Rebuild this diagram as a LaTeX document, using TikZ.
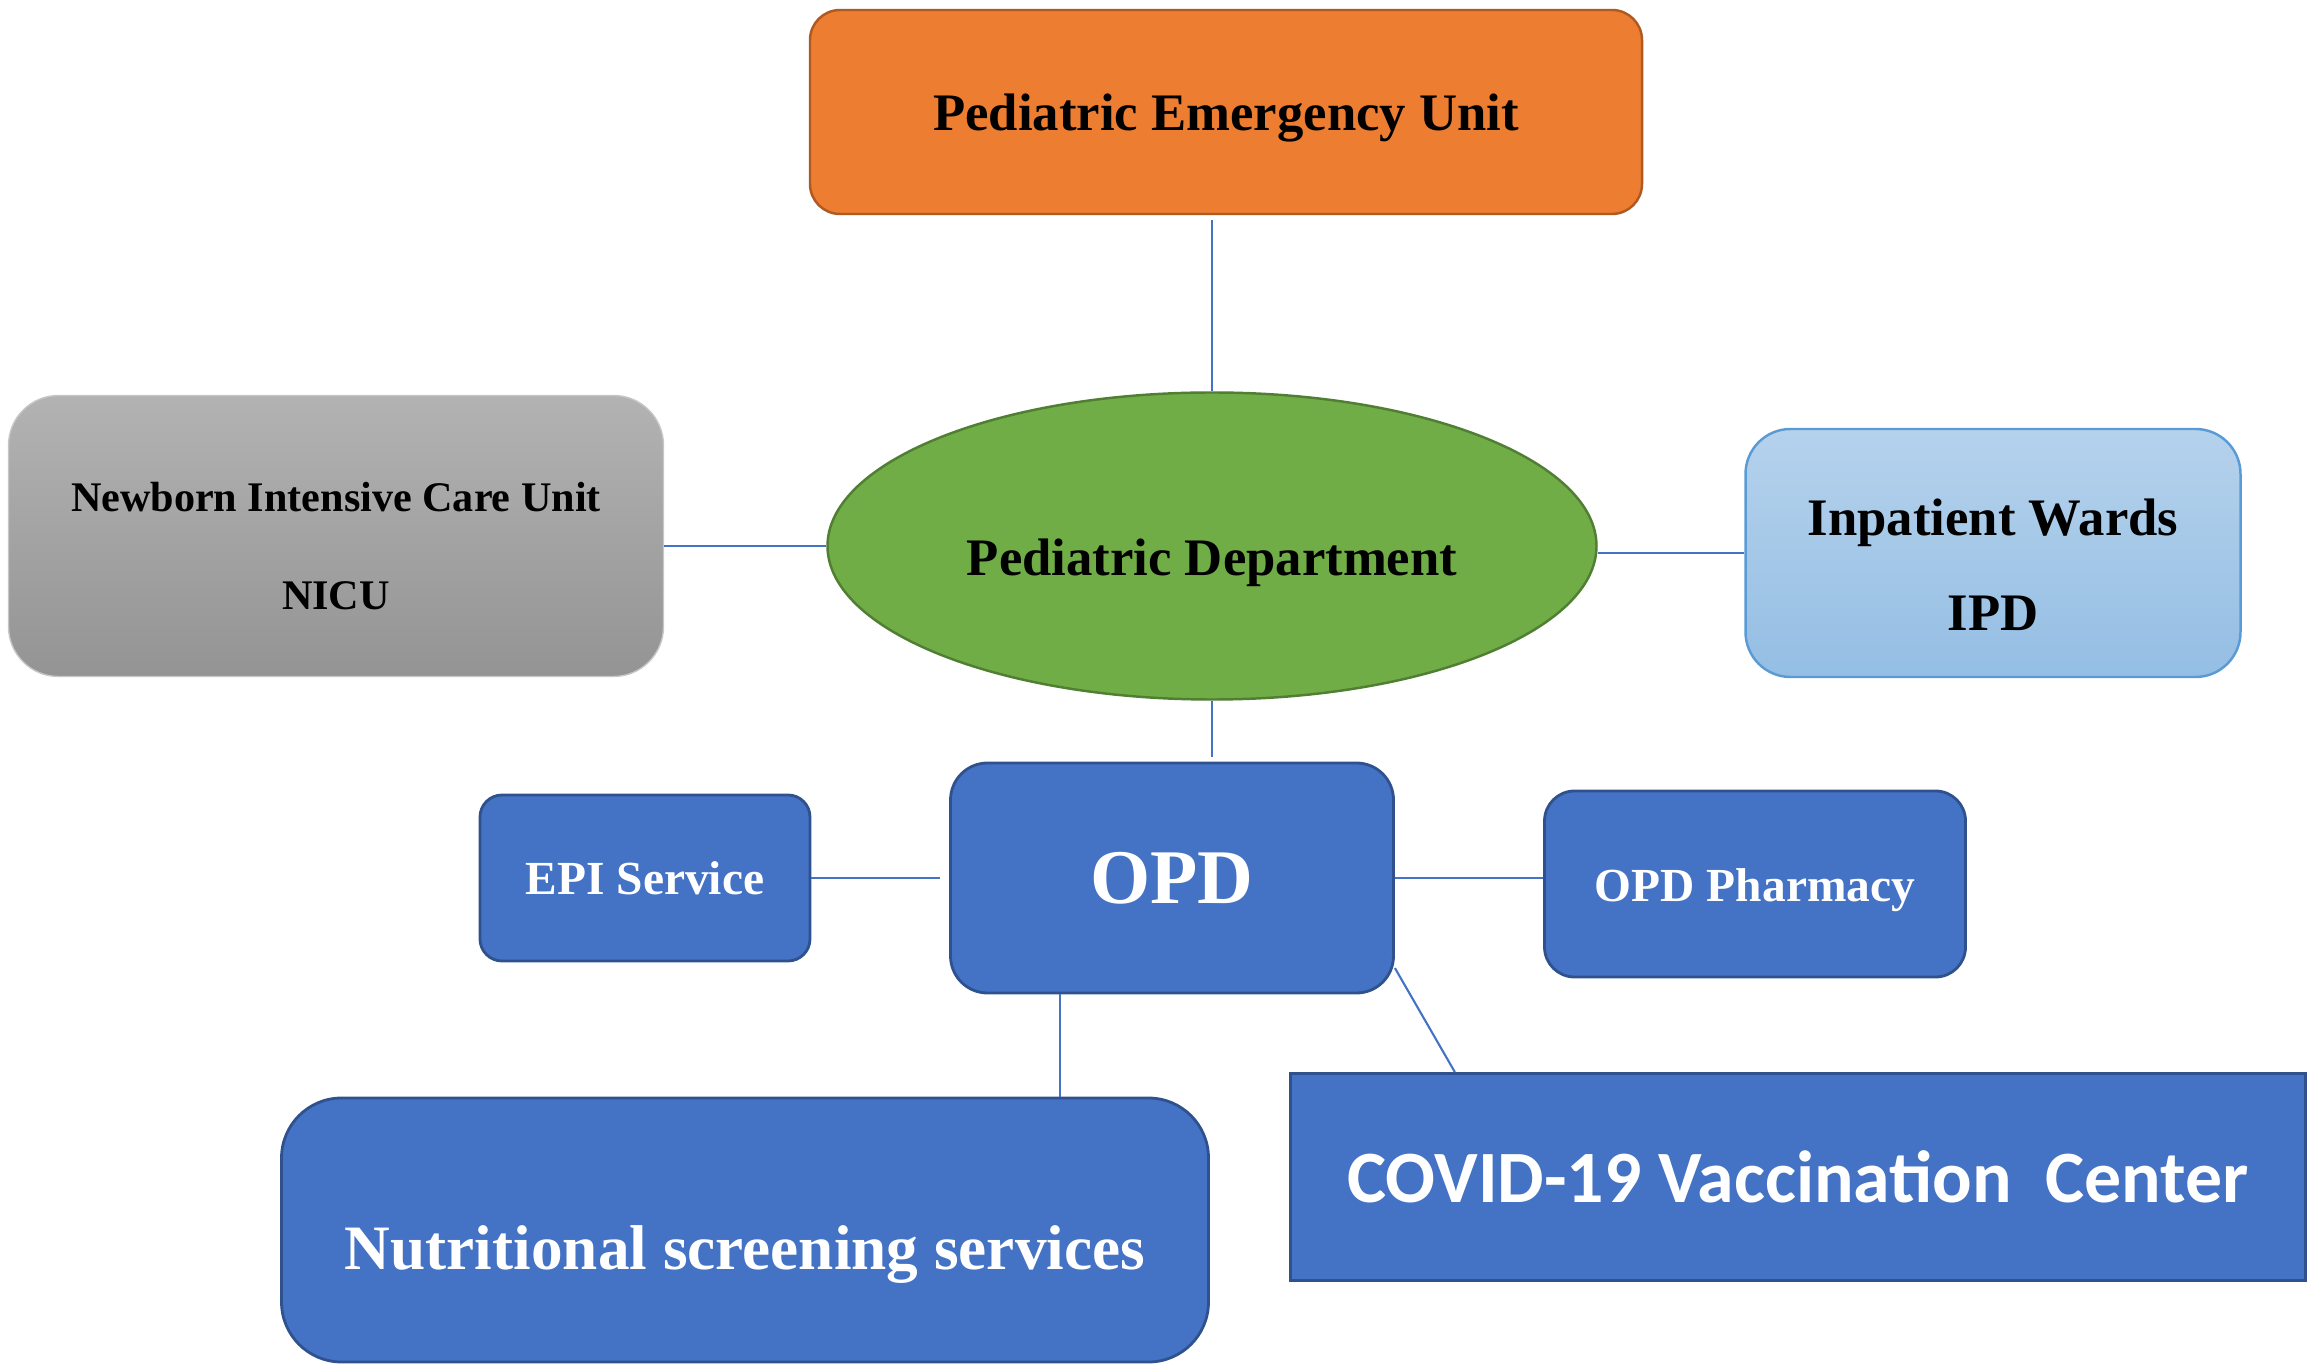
\documentclass[tikz,border=0pt]{standalone}
\usepackage{fontspec}
\setmainfont{Liberation Serif}
\newfontfamily\covidfont{Carlito}
\usepackage{tikz}
\usetikzlibrary{shapes.geometric}
\definecolor{emorange}{HTML}{ED7D31}
\definecolor{emorangedark}{HTML}{AE5A21}
\definecolor{deptgreen}{HTML}{70AD47}
\definecolor{deptgreendark}{HTML}{507E32}
\definecolor{opdblue}{HTML}{4472C4}
\definecolor{opdbluedark}{HTML}{2F528F}
\definecolor{ipdblue}{HTML}{5B9BD5}
\tikzset{unit/.style = {draw, rounded corners = 3mm, inner sep = 0, align = center}}
\tikzset{opdunit/.style = {unit, fill = opdblue, draw = opdbluedark, text = white}}
\tikzset{link/.style = {draw = opdblue, line width = 0.6pt}}

\begin{document}
\begin{tikzpicture}
      \useasboundingbox (0, 0) rectangle (23.18, 13.65);
      \node [unit, fill = emorange, draw = emorangedark, line width = 0.7pt, minimum width = 8.32cm, minimum height = 2.04cm, text height = 14pt, font = \fontsize{15}{18}\selectfont\bfseries] (emergency) at (12.26, 12.53) {Pediatric Emergency Unit};
      \node [ellipse, draw = deptgreendark, fill = deptgreen, line width = 0.7pt, inner sep = 0, minimum width = 7.69cm, minimum height = 3.07cm, text height = 20pt, font = \fontsize{15}{18}\selectfont\bfseries] (dept) at (12.12, 8.19) {Pediatric Department};
      \node [unit, rounded corners = 5mm, draw = gray!45, top color = black!30, bottom color = black!42, minimum width = 6.55cm, minimum height = 2.81cm, font = \fontsize{12}{28}\selectfont\bfseries] (nicu) at (3.36, 8.29) {\rule{0pt}{0.5cm}Newborn Intensive Care Unit\\NICU};
      \node [unit, rounded corners = 4.5mm, draw = ipdblue, top color = ipdblue!45, bottom color = ipdblue!65, line width = 0.7pt, minimum width = 4.95cm, minimum height = 2.48cm, font = \fontsize{15}{27}\selectfont\bfseries] (ipd) at (19.93, 8.12) {\rule{0pt}{0.6cm}Inpatient Wards\\IPD};
      \node [opdunit, rounded corners = 3.7mm, line width = 0.8pt, minimum width = 4.43cm, minimum height = 2.30cm, font = \fontsize{22}{26}\selectfont\bfseries] (opd) at (11.72, 4.87) {OPD};
      \node [opdunit, rounded corners = 2.2mm, line width = 0.8pt, minimum width = 3.30cm, minimum height = 1.66cm, font = \fontsize{13.5}{16}\selectfont\bfseries] (epi) at (6.45, 4.87) {EPI Service};
      \node [opdunit, rounded corners = 3mm, line width = 0.8pt, minimum width = 4.21cm, minimum height = 1.86cm, text height = 12.7pt, font = \fontsize{13.5}{16}\selectfont\bfseries] (pharmacy) at (17.55, 4.81) {OPD Pharmacy};
      \node [opdunit, rounded corners = 6mm, line width = 0.8pt, minimum width = 9.27cm, minimum height = 2.64cm, text height = 0.93cm, font = \fontsize{18}{22}\selectfont\bfseries] (nutrition) at (7.45, 1.35) {Nutritional screening services};
      \node [opdunit, rounded corners = 0, line width = 0.8pt, minimum width = 10.15cm, minimum height = 2.07cm, font = \covidfont\fontsize{21}{25}\selectfont\bfseries] (covid) at (17.98, 1.88) {COVID-19 Vaccination\ \ Center};
      \draw [link, shorten < = 0.5mm] (emergency.south -| dept.north) -- (dept.north);
      \draw [link] (dept.west -| nicu.east) -- (dept.west);
      \draw [link] (ipd.west -| dept.east) -- (ipd.west);
      \draw [link, shorten > = 0.5mm] (dept.south) -- (dept.south |- opd.north);
      \draw [link, shorten > = 0.9mm] (epi.east) -- (opd.west);
      \draw [link] (opd.east) -- (opd.east -| pharmacy.west);
      \draw [link] (opd.-134) -- (opd.-134 |- nutrition.north);
      \draw [link] (opd.-22) -- (covid.163);
    \end{tikzpicture}
\end{document}
